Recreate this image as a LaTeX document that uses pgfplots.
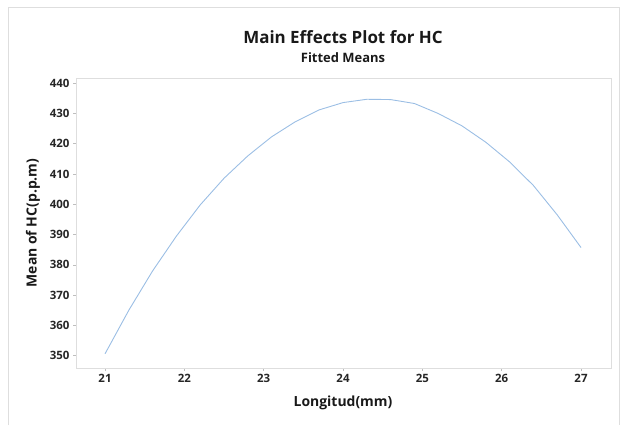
\documentclass[border=0pt]{standalone}
\usepackage{fontspec}
\setmainfont{Open Sans}
\usepackage{pgfplots}
\pgfplotsset{compat=1.18}
\definecolor{fitline}{RGB}{155,190,228}
\definecolor{framegray}{RGB}{222,222,222}
\definecolor{tickgray}{RGB}{190,190,190}
\begin{document}
\begin{tikzpicture}[x=1bp,y=1bp]
\path[use as bounding box] (0,0) rectangle (627,425);
\draw[framegray, line width=0.8bp] (8,0) -- (8,418) -- (619,418) -- (619,0);
\begin{axis}[
  at={(76bp,57bp)}, anchor=south west,
  width=535bp, height=289bp, scale only axis,
  xmin=20.634, xmax=27.378, ymin=345.9, ymax=441.4,
  xtick={21,22,23,24,25,26,27},
  ytick={350,360,370,380,390,400,410,420,430,440},
  axis line style={framegray, line width=1bp},
  tick style={color=tickgray, line width=0.6bp},
  tick align=outside, major tick length=3bp,
  xtick pos=bottom, ytick pos=left,
  /pgf/number format/assume math mode=true,
  /pgf/number format/1000 sep={},
  ticklabel style={font=\fontsize{11.5}{13}\selectfont\bfseries, text=black!85},
  clip=false,
]
\addplot[color=fitline, line width=0.9bp, mark=none] coordinates {
(21.0,350.6) (21.3,365.0) (21.6,378.0) (21.9,389.5) (22.2,399.8)
(22.5,408.6) (22.8,416.0) (23.1,422.3) (23.4,427.3) (23.7,431.2)
(24.0,433.6) (24.3,434.7) (24.6,434.6) (24.9,433.3) (25.2,430.0)
(25.5,425.9) (25.8,420.5) (26.1,414.0) (26.4,406.2) (26.7,396.5)
(27.0,385.7)
};
\end{axis}
\node[text=black!90] at (343,388) {\fontsize{17}{20}\selectfont\bfseries Main Effects Plot for HC};
\node[text=black!90] at (343,367) {\fontsize{13}{15}\selectfont\bfseries Fitted Means};
\node[text=black!90] at (343,22) {\fontsize{14}{16}\selectfont\bfseries Longitud(mm)};
\node[text=black!90, rotate=90] at (33,202) {\fontsize{14}{16}\selectfont\bfseries Mean of HC(p.p.m)};
\end{tikzpicture}
\end{document}
